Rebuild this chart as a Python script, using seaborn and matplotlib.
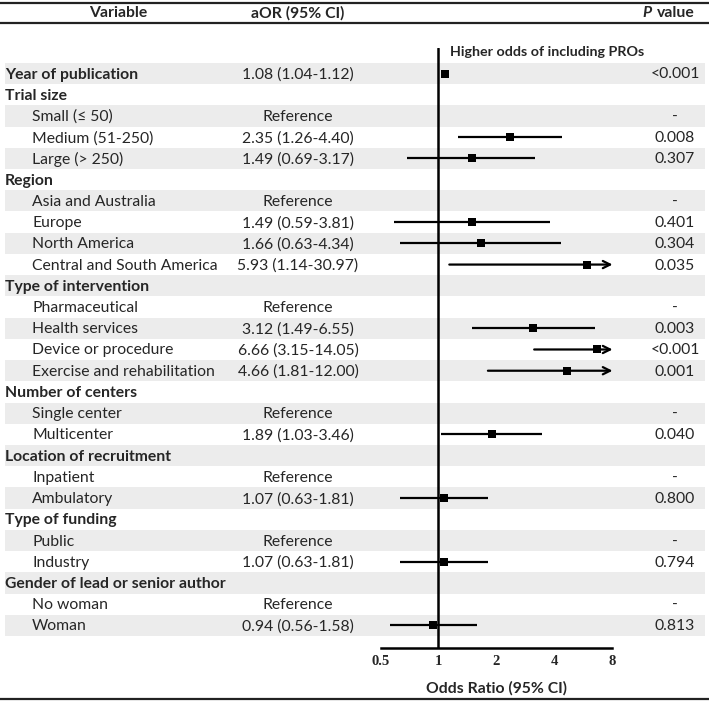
import matplotlib
matplotlib.use("Agg")
import matplotlib.pyplot as plt
import seaborn as sns
import pandas as pd
import numpy as np

sns.set_theme(style="white")
plt.rcParams['font.family'] = ['Lato', 'DejaVu Sans']

# ---------------- data ----------------
variables = [
    "Year of publication", "Trial size", "Small (≤ 50)", "Medium (51-250)", "Large (> 250)",
    "Region", "Asia and Australia", "Europe", "North America", "Central and South America",
    "Type of intervention", "Pharmaceutical", "Health services", "Device or procedure",
    "Exercise and rehabilitation", "Number of centers", "Single center", "Multicenter",
    "Location of recruitment", "Inpatient", "Ambulatory", "Type of funding", "Public",
    "Industry", "Gender of lead or senior author", "No woman", "Woman",
]
is_group = [True, True, False, False, False, True, False, False, False, False,
            True, False, False, False, False, True, False, False, True, False,
            False, True, False, False, True, False, False]
aor_text = [
    "1.08 (1.04-1.12)", "", "Reference", "2.35 (1.26-4.40)", "1.49 (0.69-3.17)",
    "", "Reference", "1.49 (0.59-3.81)", "1.66 (0.63-4.34)", "5.93 (1.14-30.97)",
    "", "Reference", "3.12 (1.49-6.55)", "6.66 (3.15-14.05)", "4.66 (1.81-12.00)",
    "", "Reference", "1.89 (1.03-3.46)", "", "Reference", "1.07 (0.63-1.81)",
    "", "Reference", "1.07 (0.63-1.81)", "", "Reference", "0.94 (0.56-1.58)",
]
p_text = [
    "<0.001", "", "-", "0.008", "0.307", "", "-", "0.401", "0.304", "0.035",
    "", "-", "0.003", "<0.001", "0.001", "", "-", "0.040", "", "-", "0.800",
    "", "-", "0.794", "", "-", "0.813",
]
est_label = ["Year of publication", "Medium (51-250)", "Large (> 250)", "Europe",
             "North America", "Central and South America", "Health services",
             "Device or procedure", "Exercise and rehabilitation", "Multicenter",
             "Ambulatory", "Industry", "Woman"]
est_or = [1.08, 2.35, 1.49, 1.49, 1.66, 5.93, 3.12, 6.66, 4.66, 1.89, 1.07, 1.07, 0.94]
est_lo = [1.04, 1.26, 0.69, 0.59, 0.63, 1.14, 1.49, 3.15, 1.81, 1.03, 0.63, 0.63, 0.56]
est_hi = [1.12, 4.40, 3.17, 3.81, 4.34, 30.97, 6.55, 14.05, 12.00, 3.46, 1.81, 1.81, 1.58]
xticks = [0.5, 1, 2, 4, 8]

# ---------------- layout (pixels) ----------------
W, H = 709, 701
row0, dy = 73.5, 21.23
ypos = {v: row0 + i * dy for i, v in enumerate(variables)}

fig = plt.figure(figsize=(W / 100, H / 100), dpi=100)
bg = fig.add_axes([0, 0, 1, 1])
bg.set_xlim(0, W)
bg.set_ylim(H, 0)
bg.axis("off")

FS = 11.3
# shaded bands
for i, v in enumerate(variables):
    if i % 2 == 0:
        bg.add_patch(plt.Rectangle((5, ypos[v] - dy / 2), 700, dy,
                                   color="#ECECEC", lw=0, zorder=0))
# rules
for y in (3, 22.5, 699):
    bg.plot([0, W], [y, y], color="#222222", lw=1.6, zorder=1)

# headers
bg.text(118, 13, "Variable", ha="center", va="center", fontsize=FS, fontweight="bold")
bg.text(298, 13, "aOR (95% CI)", ha="center", va="center", fontsize=FS, fontweight="bold")
bg.text(652, 13, "P", ha="right", va="center", fontsize=FS, fontweight="bold", style="italic")
bg.text(657, 13, "value", ha="left", va="center", fontsize=FS, fontweight="bold")

for v, g, a, p in zip(variables, is_group, aor_text, p_text):
    y = ypos[v] + 1
    if g:
        bg.text(5, y, v, ha="left", va="center", fontsize=FS, fontweight="bold")
    else:
        bg.text(32, y, v, ha="left", va="center", fontsize=FS)
    if a:
        bg.text(298, y, a, ha="center", va="center", fontsize=FS)
    if p:
        bg.text(675, y, p, ha="center", va="center", fontsize=FS)

bg.text(450, 52, "Higher odds of including PROs", ha="left", va="center",
        fontsize=10.3, fontweight="bold")
bg.text(496, 688, "Odds Ratio (95% CI)", ha="center", va="center",
        fontsize=FS, fontweight="bold")

# ---------------- forest axes ----------------
x0, x1 = 380.5, 612
ytop, ybot = 48, 648
ax = fig.add_axes([x0 / W, (H - ybot) / H, (x1 - x0) / W, (ybot - ytop) / H])
ax.patch.set_alpha(0)
ax.set_xscale("log", base=2)
ax.set_xlim(0.5, 8)
ax.set_ylim(ybot, ytop)

df = pd.DataFrame({"label": est_label, "or": est_or, "lo": est_lo, "hi": est_hi})
df["y"] = df["label"].map(ypos)

for _, r in df.iterrows():
    if r.hi > 8:
        ax.annotate("", xy=(8.05, r.y), xytext=(r.lo, r.y),
                    arrowprops=dict(arrowstyle="->", color="black", lw=1.6,
                                    mutation_scale=13, shrinkA=0, shrinkB=0),
                    annotation_clip=False)
    else:
        ax.plot([r.lo, r.hi], [r.y, r.y], color="black", lw=1.6, solid_capstyle="butt")

sns.scatterplot(data=df, x="or", y="y", marker="s", color="black", s=30,
                edgecolor="black", linewidth=0, ax=ax, legend=False, zorder=5)
ax.axvline(1, color="black", lw=1.8, zorder=4)

for s in ("top", "right", "left"):
    ax.spines[s].set_visible(False)
ax.spines["bottom"].set_linewidth(1.8)
ax.spines["bottom"].set_color("black")
ax.set_yticks([])
ax.set_xticks(xticks)
ax.set_xticklabels([f"{t:g}" for t in xticks], fontfamily="Liberation Serif",
                   fontweight="bold", fontsize=10.5)
ax.xaxis.set_minor_locator(matplotlib.ticker.NullLocator())
ax.tick_params(axis="x", length=0, pad=5)
ax.set_xlabel("")
ax.set_ylabel("")

fig.savefig("out.png", dpi=100)
